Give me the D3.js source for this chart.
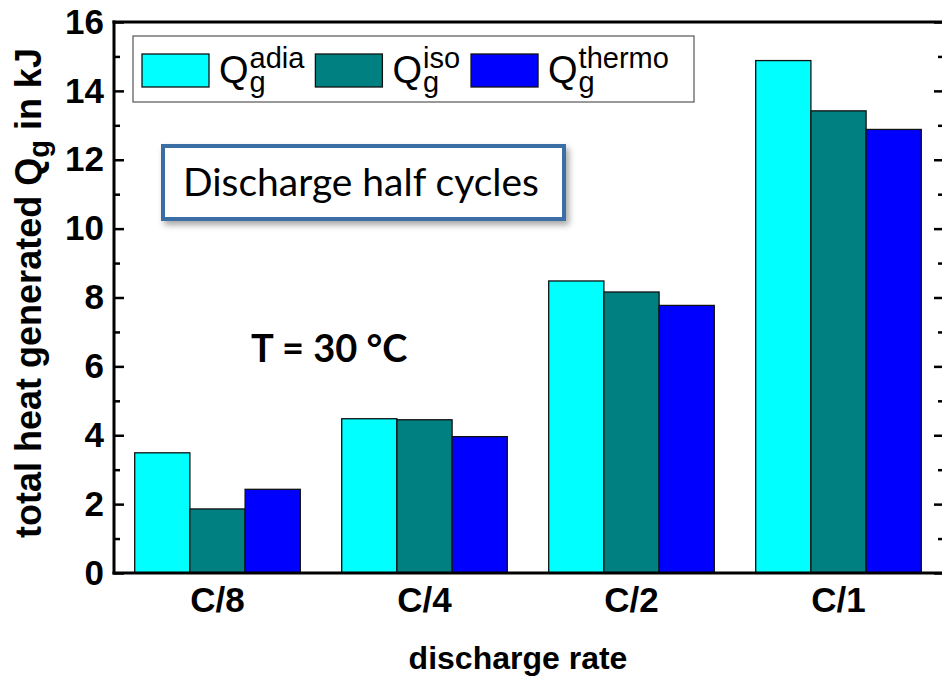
<!DOCTYPE html>
<html>
<head>
<meta charset="utf-8">
<script src="https://cdn.jsdelivr.net/npm/d3@7"></script>
<style>
  html, body { margin: 0; padding: 0; background: #fff; }
  svg { display: block; }
</style>
</head>
<body>
<svg id="chart" width="942" height="679"></svg>
<script>
// Discharge rates and total heat generated (kJ) for each heat model
const rates = ["C/8", "C/4", "C/2", "C/1"];
const seriesKeys = ["adia", "iso", "thermo"];
const qAdia = [3.49, 4.48, 8.48, 14.88];
const qIso = [1.86, 4.45, 8.16, 13.42];
const qThermo = [2.43, 3.96, 7.77, 12.88];
const seriesColors = ["#00FFFF", "#008080", "#0000FF"];
const yMajorTicks = [0, 2, 4, 6, 8, 10, 12, 14, 16];
const yMinorTicks = [1, 3, 5, 7, 9, 11, 13, 15];

const seriesValues = [qAdia, qIso, qThermo];
const svg = d3.select("#chart");

const plot = { left: 114, right: 942, top: 22, bottom: 573, spineRight: 944 };

const x = d3.scaleBand()
  .domain(rates)
  .range([plot.left, plot.right])
  .paddingInner(0.2)
  .paddingOuter(0.1);

const xSub = d3.scaleBand()
  .domain(seriesKeys)
  .range([0, x.bandwidth()]);

const y = d3.scaleLinear().domain([0, 16]).range([plot.bottom, plot.top]);

const defs = svg.append("defs");
const shadow = defs.append("filter").attr("id", "boxShadow")
  .attr("x", "-10%").attr("y", "-20%").attr("width", "130%").attr("height", "160%");
shadow.append("feDropShadow")
  .attr("dx", 3).attr("dy", 4).attr("stdDeviation", 3)
  .attr("flood-color", "#000").attr("flood-opacity", 0.35);

// Bars
const groups = svg.append("g").selectAll("g")
  .data(rates)
  .join("g")
  .attr("transform", d => `translate(${x(d)},0)`);

groups.selectAll("rect")
  .data((d, i) => seriesKeys.map((k, s) => ({ key: k, value: seriesValues[s][i], color: seriesColors[s] })))
  .join("rect")
  .attr("x", d => xSub(d.key))
  .attr("width", xSub.bandwidth())
  .attr("y", d => y(d.value))
  .attr("height", d => y(0) - y(d.value))
  .attr("fill", d => d.color)
  .attr("stroke", "#111")
  .attr("stroke-width", 1.3);

// Axes
const tickFont = "'Liberation Sans', Arial, sans-serif";

function styleAxis(g) {
  g.selectAll(".domain").remove();
  g.selectAll(".tick line").attr("stroke", "#000").attr("stroke-width", 2.5);
  g.selectAll("text")
    .attr("fill", "#000")
    .style("font-family", tickFont)
    .style("font-weight", "bold")
    .style("font-size", "35px");
}

svg.append("g")
  .attr("transform", `translate(${plot.left},0)`)
  .call(d3.axisLeft(y).tickValues(yMajorTicks).tickSize(-10).tickPadding(10).tickFormat(d3.format("d")))
  .call(styleAxis);

svg.append("g")
  .attr("transform", `translate(${plot.left},0)`)
  .call(d3.axisLeft(y).tickValues(yMinorTicks).tickSize(-6).tickFormat(""))
  .call(styleAxis);

svg.append("g")
  .attr("transform", `translate(${plot.spineRight},0)`)
  .call(d3.axisRight(y).tickValues(yMajorTicks).tickSize(-10).tickFormat(""))
  .call(styleAxis);

svg.append("g")
  .attr("transform", `translate(${plot.spineRight},0)`)
  .call(d3.axisRight(y).tickValues(yMinorTicks).tickSize(-6).tickFormat(""))
  .call(styleAxis);

svg.append("g")
  .attr("transform", `translate(0,${plot.bottom})`)
  .call(d3.axisBottom(x).tickSize(0).tickPadding(14))
  .call(styleAxis);

// Frame
const frame = svg.append("g").attr("stroke", "#000").attr("stroke-width", 3).attr("fill", "none");
frame.append("line").attr("x1", plot.left).attr("x2", plot.left).attr("y1", plot.top - 1.5).attr("y2", plot.bottom + 1.5);
frame.append("line").attr("x1", plot.left - 1.5).attr("x2", plot.spineRight).attr("y1", plot.bottom).attr("y2", plot.bottom);
frame.append("line").attr("x1", plot.left - 1.5).attr("x2", plot.spineRight).attr("y1", plot.top).attr("y2", plot.top);
frame.append("line").attr("x1", plot.spineRight).attr("x2", plot.spineRight).attr("y1", plot.top).attr("y2", plot.bottom);

// Axis titles
svg.append("text")
  .attr("x", 518).attr("y", 669)
  .attr("text-anchor", "middle")
  .style("font-family", tickFont).style("font-weight", "bold").style("font-size", "32px")
  .text("discharge rate");

const yTitle = svg.append("text")
  .attr("transform", "translate(41,293) rotate(-90)")
  .attr("text-anchor", "middle")
  .style("font-family", tickFont).style("font-weight", "bold").style("font-size", "36px");
yTitle.append("tspan").text("total heat generated Q");
yTitle.append("tspan").attr("dy", 8).style("font-size", "29px").text("g");
yTitle.append("tspan").attr("dy", -8).text(" in kJ");

// Legend
const legend = svg.append("g");
legend.append("rect")
  .attr("x", 133).attr("y", 36).attr("width", 561).attr("height", 66)
  .attr("fill", "#fff").attr("stroke", "#555").attr("stroke-width", 1.2);

let lx = 142;
seriesKeys.forEach((k, s) => {
  legend.append("rect")
    .attr("x", lx).attr("y", 54).attr("width", 67).attr("height", 33)
    .attr("fill", seriesColors[s]).attr("stroke", "#111").attr("stroke-width", 1.3);
  const qx = lx + 67 + 10;
  const q = legend.append("text")
    .attr("x", qx).attr("y", 83)
    .style("font-family", tickFont).style("font-size", "38px")
    .text("Q");
  const qEnd = qx + q.node().getComputedTextLength() + 1;
  const sup = legend.append("text")
    .attr("x", qEnd).attr("y", 68)
    .style("font-family", tickFont).style("font-size", "29px")
    .text(k);
  const sub = legend.append("text")
    .attr("x", qEnd).attr("y", 92)
    .style("font-family", tickFont).style("font-size", "29px")
    .text("g");
  const end = qEnd + Math.max(sup.node().getComputedTextLength(), sub.node().getComputedTextLength());
  lx = end + 11;
});

// Size a label so that it spans the given width
function fitText(sel, width) {
  sel.style("font-size", "100px");
  const w = sel.node().getComputedTextLength();
  sel.style("font-size", (100 * width / w).toFixed(2) + "px");
  return sel;
}

// Annotation box
svg.append("rect")
  .attr("x", 163).attr("y", 146).attr("width", 401).attr("height", 73)
  .attr("fill", "#fff").attr("stroke", "#3A6EA5").attr("stroke-width", 4)
  .attr("filter", "url(#boxShadow)");

const boxText = svg.append("text")
  .attr("x", 183).attr("y", 196)
  .style("font-family", "Lato, 'Open Sans', sans-serif")
  .text("Discharge half cycles");
fitText(boxText, 356);

svg.append("text")
  .attr("x", 251).attr("y", 362)
  .style("font-family", "Lato, 'Open Sans', sans-serif").style("font-weight", "bold")
  .style("font-size", "38px")
  .text("T = 30 °C");
</script>
</body>
</html>
